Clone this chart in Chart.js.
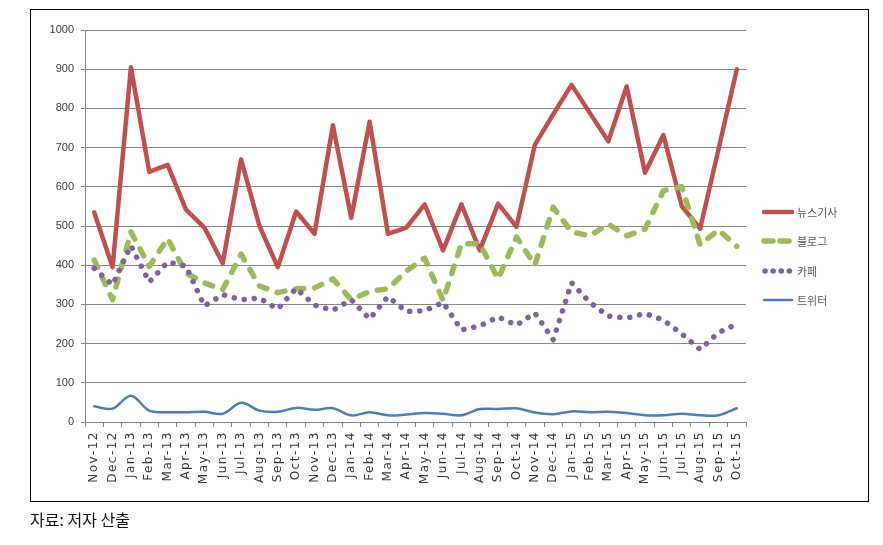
<!DOCTYPE html>
<html>
<head>
<meta charset="utf-8">
<script src="https://cdn.jsdelivr.net/npm/chart.js@4"></script>
<style>
  body { margin: 0; background: #fff; }
  #wrap { position: relative; width: 883px; height: 545px; }
  #c { position: absolute; left: 0; top: 0; }
  #frame { position: absolute; left: 30px; top: 9px; width: 839px; height: 493px; box-sizing: border-box; border: 1px solid #000; }
  #note { position: absolute; left: 30px; top: 509px; font: 16px "Noto Sans CJK KR", sans-serif; color: #111; line-height: 20px; }
</style>
</head>
<body>
<div id="wrap">
  <div id="frame"></div>
  <canvas id="c" width="883" height="545"></canvas>
  <div id="note">자료: 저자 산출</div>
</div>
<script>
const months = ['Nov-12', 'Dec-12', 'Jan-13', 'Feb-13', 'Mar-13', 'Apr-13', 'May-13', 'Jun-13', 'Jul-13', 'Aug-13', 'Sep-13', 'Oct-13',
    'Nov-13', 'Dec-13', 'Jan-14', 'Feb-14', 'Mar-14', 'Apr-14', 'May-14', 'Jun-14', 'Jul-14', 'Aug-14', 'Sep-14', 'Oct-14',
    'Nov-14', 'Dec-14', 'Jan-15', 'Feb-15', 'Mar-15', 'Apr-15', 'May-15', 'Jun-15', 'Jul-15', 'Aug-15', 'Sep-15', 'Oct-15'];

const seriesNames = ['뉴스기사', '블로그', '카페', '트위터'];

const news = [535, 395, 905, 638, 656, 542, 496, 405, 670, 500, 395, 537, 480, 757, 521, 766, 480, 496, 555, 438, 555, 438, 557, 498,
    707, 785, 860, 788, 716, 856, 636, 732, 551, 493, 695, 900];
const blog = [413, 312, 485, 397, 468, 380, 355, 338, 428, 347, 330, 340, 342, 365, 312, 333, 340, 385, 418, 310, 455, 455, 365, 472,
    400, 548, 485, 475, 505, 475, 492, 590, 600, 452, 490, 448];
const cafe = [392, 350, 450, 357, 408, 398, 296, 325, 312, 316, 288, 341, 298, 285, 312, 263, 320, 282, 284, 305, 235, 245, 268, 247,
    278, 210, 355, 305, 270, 265, 277, 260, 225, 185, 228, 250];
const twitter = [40, 34, 67, 29, 25, 25, 26, 21, 49, 29, 26, 36, 31, 35, 17, 25, 17, 19, 23, 21, 17, 33, 33, 35,
    24, 20, 27, 25, 26, 23, 17, 17, 21, 17, 17, 35];

const yTicks = [0, 100, 200, 300, 400, 500, 600, 700, 800, 900, 1000];

const lineStyles = [
    { color: '#C0504D', width: 4.5, dash: [], cap: 'round' },
    { color: '#9BBB59', width: 5.5, dash: [8, 11], cap: 'round' },
    { color: '#7F5FA8', width: 5.5, dash: [0.1, 10], cap: 'round' },
    { color: '#4A7EBB', width: 2.5, dash: [], cap: 'round' }
];

// legend drawn beside the plot, like the Excel one
const sideLegend = {
    id: 'sideLegend',
    afterDraw(chart) {
        const ctx = chart.ctx;
        const ys = [212, 241, 271, 300];
        ctx.save();
        seriesNames.forEach((name, i) => {
            const s = lineStyles[i];
            ctx.beginPath();
            ctx.strokeStyle = s.color;
            ctx.lineWidth = s.width;
            ctx.lineCap = s.cap;
            ctx.setLineDash(i === 1 ? [9, 7] : i === 2 ? [0.1, 8] : []);
            ctx.moveTo(i === 2 ? 765 : 764, ys[i]);
            ctx.lineTo(792, ys[i]);
            ctx.stroke();
            ctx.setLineDash([]);
            ctx.fillStyle = '#595959';
            ctx.font = '11px "Noto Sans CJK KR"';
            ctx.textBaseline = 'middle';
            ctx.fillText(name, 797, ys[i] + 1);
        });
        ctx.restore();
    }
};

// wider spacing in the rotated month labels
const xSpacing = {
    id: 'xSpacing',
    afterUpdate(chart) {
        const sc = chart.scales.x;
        if (sc._spaced) return;
        const orig = sc.drawLabels;
        sc.drawLabels = function (area) {
            this.ctx.save();
            this.ctx.letterSpacing = '1.5px';
            orig.call(this, area);
            this.ctx.restore();
        };
        sc._spaced = true;
    }
};

const allData = [news, blog, cafe, twitter];

new Chart(document.getElementById('c'), {
    type: 'line',
    data: {
        labels: months,
        datasets: allData.map((d, i) => ({
            label: seriesNames[i],
            data: d,
            borderColor: lineStyles[i].color,
            borderWidth: lineStyles[i].width,
            borderDash: lineStyles[i].dash,
            borderCapStyle: lineStyles[i].cap,
            borderJoinStyle: 'round',
            pointRadius: 0,
            fill: false,
            tension: i === 3 ? 0.35 : 0,
            order: 4 - i
        }))
    },
    options: {
        responsive: false,
        animation: false,
        events: [],
        layout: { padding: { left: 0, top: 30, right: 137, bottom: 0 } },
        plugins: { legend: { display: false }, tooltip: { enabled: false } },
        scales: {
            x: {
                offset: true,
                grid: { offset: true, drawOnChartArea: false, drawTicks: true, tickLength: 5, color: '#868686' },
                border: { color: '#868686' },
                ticks: {
                    autoSkip: false, maxRotation: 90, minRotation: 90, padding: 4,
                    color: '#3a3a3a', font: { family: 'DejaVu Sans', size: 12 }
                },
                afterFit(scale) { scale.height = 123; }
            },
            y: {
                min: 0, max: 1000,
                afterBuildTicks(scale) { scale.ticks = yTicks.map(v => ({ value: v })); },
                grid: { color: '#868686', tickLength: 4 },
                border: { color: '#868686' },
                ticks: {
                    padding: 7, color: '#3a3a3a', font: { family: 'Liberation Sans', size: 11 },
                    callback: v => String(v)
                },
                afterFit(scale) { scale.width = 85; }
            }
        }
    },
    plugins: [xSpacing, sideLegend]
});
</script>
</body>
</html>
